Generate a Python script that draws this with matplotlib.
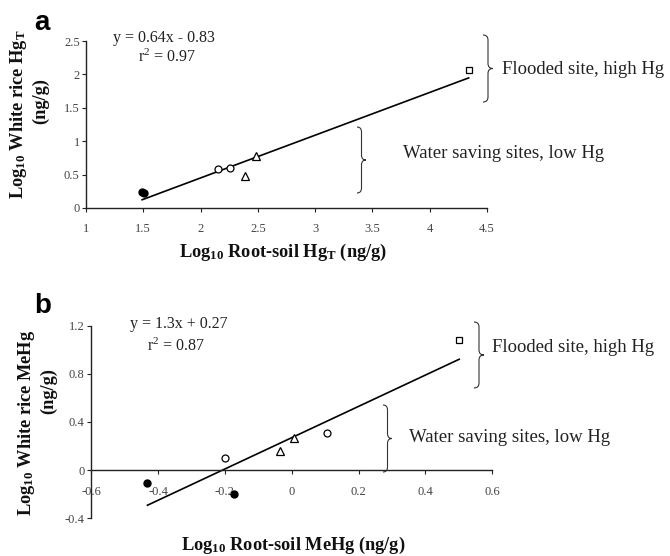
import numpy as np
import matplotlib
matplotlib.use("Agg")
import matplotlib.pyplot as plt
from matplotlib.path import Path
from matplotlib.patches import PathPatch
from matplotlib.ticker import FuncFormatter

plt.rcParams['font.family'] = ['Liberation Serif', 'DejaVu Serif']
plt.rcParams['mathtext.default'] = 'regular'
plt.rcParams['axes.unicode_minus'] = False

# panel a: log10 HgT, root soil vs white rice
a_filled_x = [1.49, 1.51]
a_filled_y = [0.235, 0.22]
a_open_x = [2.15, 2.26]
a_open_y = [0.58, 0.60]
a_tri_x = [2.39, 2.48]
a_tri_y = [0.48, 0.78]
a_sq_x = [4.34]
a_sq_y = [2.06]
a_fit = [0.64, -0.83]

# panel b: log10 MeHg
b_filled_x = [-0.432, -0.173]
b_filled_y = [-0.103, -0.199]
b_open_x = [-0.199, 0.106]
b_open_y = [0.10, 0.312]
b_tri_x = [-0.035, 0.007]
b_tri_y = [0.163, 0.27]
b_sq_x = [0.501]
b_sq_y = [1.081]
b_fit = [1.3, 0.27]

a_xticks = [1, 1.5, 2, 2.5, 3, 3.5, 4, 4.5]
a_yticks = [0, 0.5, 1, 1.5, 2, 2.5]
b_xticks = [-0.6, -0.4, -0.2, 0, 0.2, 0.4, 0.6]
b_yticks = [-0.4, 0, 0.4, 0.8, 1.2]

W, H = 670, 556
fig = plt.figure(figsize=(W / 100, H / 100), dpi=100)

def fx(px):
    return px / W

def fy(py):
    return 1 - py / H

def brace(x0, y0, y1, w, lw=0.8):
    # right facing curly brace, pixel coords (y down)
    xl, xm, xr = fx(x0), fx(x0 + w * 0.5), fx(x0 + w)
    yt, yb = fy(y0), fy(y1)
    ym = (yt + yb) / 2
    r = 5.0 / H
    verts = [(xl, yt), (xm, yt), (xm, yt - r),
             (xm, ym + r), (xm, ym), (xr, ym),
             (xm, ym), (xm, ym - r),
             (xm, yb + r), (xm, yb), (xl, yb)]
    codes = [Path.MOVETO, Path.CURVE3, Path.CURVE3,
             Path.LINETO, Path.CURVE3, Path.CURVE3,
             Path.CURVE3, Path.CURVE3,
             Path.LINETO, Path.CURVE3, Path.CURVE3]
    fig.add_artist(PathPatch(Path(verts, codes), fill=False, edgecolor='#333333',
                             lw=lw, transform=fig.transFigure))

fmt = FuncFormatter(lambda v, p: '%g' % (round(v, 2) + 0.0))

def style(ax, xt, yt, xpad, ypad):
    for s in ['top', 'right']:
        ax.spines[s].set_visible(False)
    for s in ['left', 'bottom']:
        ax.spines[s].set_linewidth(1.0)
        ax.spines[s].set_color('#222222')
    ax.set_xticks(xt)
    ax.set_yticks(yt)
    ax.xaxis.set_major_formatter(fmt)
    ax.yaxis.set_major_formatter(fmt)
    ax.tick_params(axis='x', direction='out', length=3, width=0.8, pad=xpad,
                   labelsize=9, labelcolor='#444444', color='#222222')
    ax.tick_params(axis='y', direction='out', length=3, width=0.8, pad=ypad,
                   labelsize=9, labelcolor='#444444', color='#222222')

def draw(ax, fx_, fy_, ox, oy, tx, ty, sx, sy, fit):
    lo = min(fx_ + ox + tx + sx)
    hi = max(fx_ + ox + tx + sx)
    xs = np.array([lo, hi])
    ax.plot(xs, fit[0] * xs + fit[1], color='black', lw=1.2, zorder=2)
    ax.plot(fx_, fy_, 'o', ms=5, mfc='black', mec='black', zorder=3)
    ax.plot(ox, oy, 'o', ms=5, mfc='white', mec='black', mew=0.9, zorder=3)
    ax.plot(tx, ty, '^', ms=5.5, mfc='white', mec='black', mew=0.9, zorder=3)
    ax.plot(sx, sy, 's', ms=5, mfc='white', mec='black', mew=0.9, zorder=3)

# ---- panel a
ax_a = fig.add_axes([fx(86), fy(208), (487 - 86) / W, (208 - 41) / H])
draw(ax_a, a_filled_x, a_filled_y, a_open_x, a_open_y, a_tri_x, a_tri_y,
     a_sq_x, a_sq_y, a_fit)
ax_a.set_xlim(1, 4.5)
ax_a.set_ylim(0, 2.5)
style(ax_a, a_xticks, a_yticks, 7.5, 1.5)

# ---- panel b
ax_b = fig.add_axes([fx(91.3), fy(518.3), (492.3 - 91.3) / W, (518.3 - 325.7) / H])
draw(ax_b, b_filled_x, b_filled_y, b_open_x, b_open_y, b_tri_x, b_tri_y,
     b_sq_x, b_sq_y, b_fit)
ax_b.set_xlim(-0.6, 0.6)
ax_b.set_ylim(-0.4, 1.2)
ax_b.spines['bottom'].set_position(('data', 0))
style(ax_b, b_xticks, b_yticks, 8.5, 2)

# axis labels
lab = dict(fontsize=13.2, fontweight='bold', color='#111111')
fig.text(fx(283), fy(252), 'Log$_{10}$ Root-soil Hg$_{T}$ (ng/g)', ha='center', va='center', **lab)
fig.text(fx(19), fy(114), 'Log$_{10}$ White rice Hg$_{T}$', rotation=90, ha='center', va='center', **lab)
fig.text(fx(41), fy(101), '(ng/g)', rotation=90, ha='center', va='center', **lab)

fig.text(fx(293), fy(545), 'Log$_{10}$ Root-soil MeHg (ng/g)', ha='center', va='center', **lab)
fig.text(fx(27), fy(423), 'Log$_{10}$ White rice MeHg', rotation=90, ha='center', va='center', **lab)
fig.text(fx(49), fy(391), '(ng/g)', rotation=90, ha='center', va='center', **lab)

# panel letters
fig.text(fx(34), fy(30), 'a', family='Liberation Sans', fontweight='bold', fontsize=20)
fig.text(fx(34), fy(313), 'b', family='Liberation Sans', fontweight='bold', fontsize=20)

# regression equations
eq = dict(fontsize=11.5, color='#222222', va='center', ha='left')
fig.text(fx(113), fy(38), 'y = 0.64x - 0.83', **eq)
fig.text(fx(138), fy(57), 'r$^{2}$ = 0.97', **eq)
fig.text(fx(130), fy(324), 'y = 1.3x + 0.27', **eq)
fig.text(fx(147), fy(346), 'r$^{2}$ = 0.87', **eq)

# site annotations with braces
note = dict(fontsize=13.5, color='#222222', va='center', ha='left')
brace(483, 35, 102, 10)
fig.text(fx(502), fy(70), 'Flooded site, high Hg', **note)
brace(357, 127, 193, 9)
fig.text(fx(403), fy(153), 'Water saving sites, low Hg', **note)

brace(474, 322, 388, 10)
fig.text(fx(492), fy(347), 'Flooded site, high Hg', **note)
brace(383, 405, 472, 9)
fig.text(fx(409), fy(438), 'Water saving sites, low Hg', **note)

fig.savefig('out.png', dpi=100)
